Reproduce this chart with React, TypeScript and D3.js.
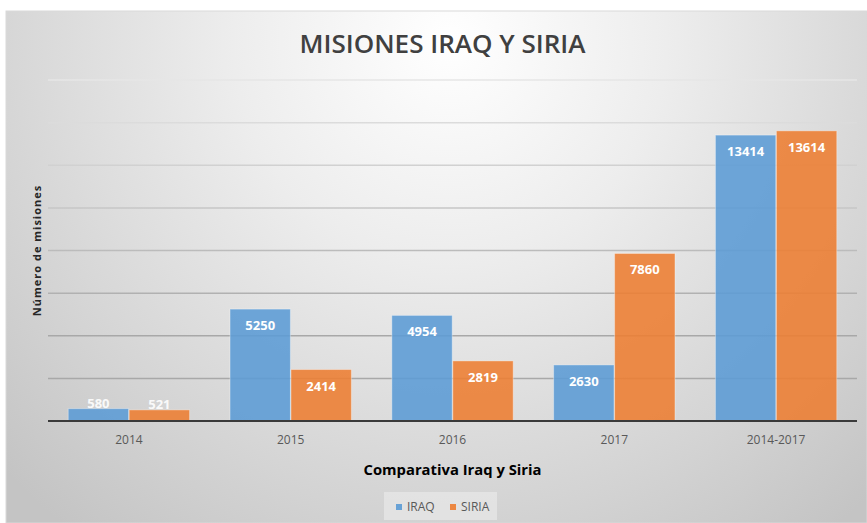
import React from 'react';
import * as d3 from 'd3';

const categories = ['2014', '2015', '2016', '2017', '2014-2017'];
const seriesNames = ['IRAQ', 'SIRIA'];
const iraqValues = [580, 5250, 4954, 2630, 13414];
const siriaValues = [521, 2414, 2819, 7860, 13614];
const gridTicks = [0, 2000, 4000, 6000, 8000, 10000, 12000, 14000, 16000];

const colors = { IRAQ: '#5B9BD5', SIRIA: '#ED7D31' };

const W = 867;
const H = 523;
const plot = { left: 48, right: 857, top: 80, bottom: 421 };

const App = () => {
    const x = d3
        .scaleBand()
        .domain(categories)
        .range([plot.left, plot.right])
        .paddingInner(0.25)
        .paddingOuter(0.125);

    const xSub = d3
        .scaleBand()
        .domain(seriesNames)
        .range([0, x.bandwidth()])
        .paddingInner(0.01);

    const y = d3.scaleLinear().domain([0, 16000]).range([plot.bottom, plot.top]);

    const rows = categories.map((c, i) => ({ cat: c, IRAQ: iraqValues[i], SIRIA: siriaValues[i] }));

    return (
        <svg width={W} height={H} style={{ position: 'absolute', left: 0, top: 0, display: 'block' }}>
            <defs>
                <radialGradient id="bg" cx="450" cy="40" r="620" gradientUnits="userSpaceOnUse">
                    <stop offset="0" stopColor="#ffffff" />
                    <stop offset="0.35" stopColor="#ededed" />
                    <stop offset="0.75" stopColor="#d4d4d4" />
                    <stop offset="1" stopColor="#c4c4c4" />
                </radialGradient>
                <linearGradient id="gridGrad" x1="0" y1="80" x2="0" y2="330" gradientUnits="userSpaceOnUse">
                    <stop offset="0" stopColor="#e6e6e6" />
                    <stop offset="1" stopColor="#a8a8a8" />
                </linearGradient>
            </defs>
            <rect x={0} y={0} width={W} height={H} fill="#ffffff" />
            <rect x={6} y={11} width={W - 6} height={H - 11} fill="url(#bg)" stroke="#d9d9d9" strokeWidth={1} />

            <text
                x={(plot.left + plot.right) / 2 - 10}
                y={53}
                textAnchor="middle"
                fontFamily="'Open Sans', sans-serif"
                fontWeight={600}
                fontSize={26}
                fill="#404040"
                textLength={286}
                lengthAdjust="spacingAndGlyphs"
            >
                MISIONES IRAQ Y SIRIA
            </text>

            {gridTicks.slice(1).map(t => (
                <line
                    key={t}
                    x1={plot.left}
                    x2={plot.right}
                    y1={y(t)}
                    y2={y(t)}
                    stroke="url(#gridGrad)"
                    strokeWidth={1.5}
                />
            ))}

            {rows.map(r => (
                <g key={r.cat} transform={`translate(${x(r.cat)},0)`}>
                    {seriesNames.map(s => {
                        const v = r[s];
                        const top = y(v);
                        const bx = xSub(s);
                        const bw = xSub.bandwidth();
                        const short = plot.bottom - top < 25;
                        return (
                            <g key={s}>
                                <rect
                                    x={bx}
                                    y={top}
                                    width={bw}
                                    height={plot.bottom - top}
                                    fill={colors[s]}
                                    fillOpacity={0.88}
                                    stroke="#ffffff"
                                    strokeOpacity={0.35}
                                    strokeWidth={1}
                                />
                                <text
                                    x={bx + bw / 2}
                                    y={short ? top - 1 : top + 21}
                                    textAnchor="middle"
                                    fontFamily="'Open Sans', sans-serif"
                                    fontWeight={700}
                                    fontSize={13}
                                    fill="#ffffff"
                                    fillOpacity={short ? 0.9 : 1}
                                >
                                    {v}
                                </text>
                            </g>
                        );
                    })}
                </g>
            ))}

            <line x1={plot.left} x2={plot.right} y1={plot.bottom} y2={plot.bottom} stroke="#3a3a3a" strokeWidth={2} />

            {categories.map(c => (
                <text
                    key={c}
                    x={x(c) + x.bandwidth() / 2}
                    y={444}
                    textAnchor="middle"
                    fontFamily="'Open Sans', sans-serif"
                    fontSize={12}
                    fill="#595959"
                >
                    {c}
                </text>
            ))}

            <text
                x={(plot.left + plot.right) / 2}
                y={475}
                textAnchor="middle"
                fontFamily="'Open Sans', sans-serif"
                fontWeight={700}
                fontSize={14.5}
                fill="#000000"
                textLength={178}
                lengthAdjust="spacingAndGlyphs"
            >
                Comparativa Iraq y Siria
            </text>

            <text
                transform={`translate(41,${(plot.top + plot.bottom) / 2}) rotate(-90)`}
                textAnchor="middle"
                fontFamily="'Open Sans', sans-serif"
                fontWeight={700}
                fontSize={11}
                fill="#262626"
                letterSpacing={1}
            >
                Número de misiones
            </text>

            <rect x={384} y={492} width={113} height={28} fill="#e8e8e8" fillOpacity={0.7} />
            {seriesNames.map((s, i) => {
                const lx = i === 0 ? 396 : 450;
                return (
                    <g key={s}>
                        <rect x={lx} y={504} width={6} height={6} fill={colors[s]} fillOpacity={0.9} />
                        <text
                            x={lx + 11}
                            y={511}
                            fontFamily="'Open Sans', sans-serif"
                            fontSize={12}
                            fill="#595959"
                        >
                            {s}
                        </text>
                    </g>
                );
            })}
        </svg>
    );
};

export default App;
